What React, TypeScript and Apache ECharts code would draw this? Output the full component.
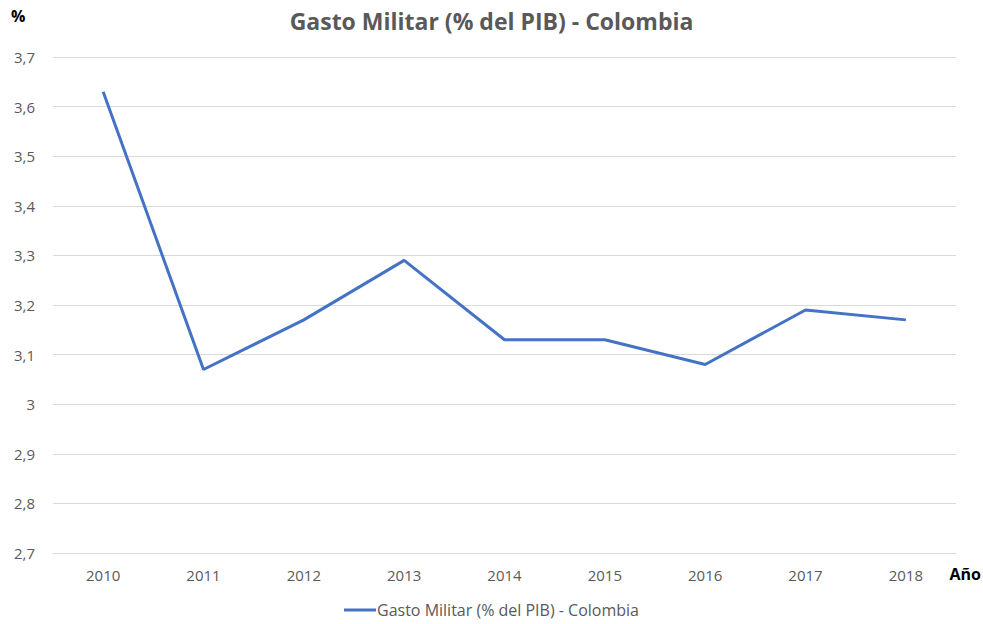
import React, { useEffect, useRef } from "react";
import * as echarts from "echarts";

const years = ["2010", "2011", "2012", "2013", "2014", "2015", "2016", "2017", "2018"];
const gastoMilitar = [3.63, 3.07, 3.17, 3.29, 3.13, 3.13, 3.08, 3.19, 3.17];
const seriesName = "Gasto Militar (% del PIB) - Colombia";
const titleText = "Gasto Militar (% del PIB) - Colombia";
const yAxisName = "%";
const xAxisName = "Año";

export default function App() {
  const ref = useRef<HTMLDivElement>(null);
  useEffect(() => {
    if (!ref.current) return;
    const chart = echarts.init(ref.current, null, { renderer: "svg" });
    const font = "'Open Sans', Lato, sans-serif";
    chart.setOption({
      animation: false,
      backgroundColor: "#ffffff",
      title: {
        text: titleText,
        left: "center",
        top: 4,
        textStyle: { fontFamily: font, fontSize: 23, fontWeight: "bold", color: "#595959" },
      },
      legend: {
        bottom: 1,
        left: "center",
        icon: "rect",
        itemWidth: 32,
        itemHeight: 3,
        itemGap: 0,
        textStyle: { fontFamily: font, fontSize: 16, color: "#595959", padding: [0, 0, 0, -4] },
        data: [seriesName],
      },
      graphic: [
        {
          type: "text",
          left: 11,
          top: 8,
          style: { text: yAxisName, fontFamily: font, fontSize: 16, fontWeight: "bold", fill: "#000000" },
        },
        {
          type: "text",
          right: 2,
          top: 566,
          style: { text: xAxisName, fontFamily: font, fontSize: 16, fontWeight: "bold", fill: "#000000" },
        },
      ],
      grid: { left: 53, right: 27, top: 57, bottom: 71, containLabel: false, outerBoundsMode: "none" },
      xAxis: {
        type: "category",
        data: years,
        boundaryGap: true,
        axisLine: { show: true, lineStyle: { color: "#d9d9d9" } },
        axisTick: { show: false },
        axisLabel: { fontFamily: font, fontSize: 15, color: "#595959", margin: 14 },
      },
      yAxis: {
        type: "value",
        min: 2.7,
        max: 3.7,
        interval: 0.1,
        axisLine: { show: false },
        axisTick: { show: false },
        splitLine: { lineStyle: { color: "#d9d9d9", width: 1 } },
        axisLabel: {
          fontFamily: font,
          fontSize: 15,
          color: "#595959",
          margin: 18,
          formatter: (v: number) => {
            const r = Math.round(v * 10) / 10;
            return Number.isInteger(r) ? String(r) : r.toFixed(1).replace(".", ",");
          },
        },
      },
      series: [
        {
          name: seriesName,
          type: "line",
          data: gastoMilitar,
          symbol: "none",
          lineStyle: { color: "#4472C4", width: 3 },
          itemStyle: { color: "#4472C4" },
        },
      ],
    });
    return () => chart.dispose();
  }, []);
  return <div ref={ref} style={{ width: 983, height: 624, position: "absolute", left: 0, top: 0 }} />;
}
